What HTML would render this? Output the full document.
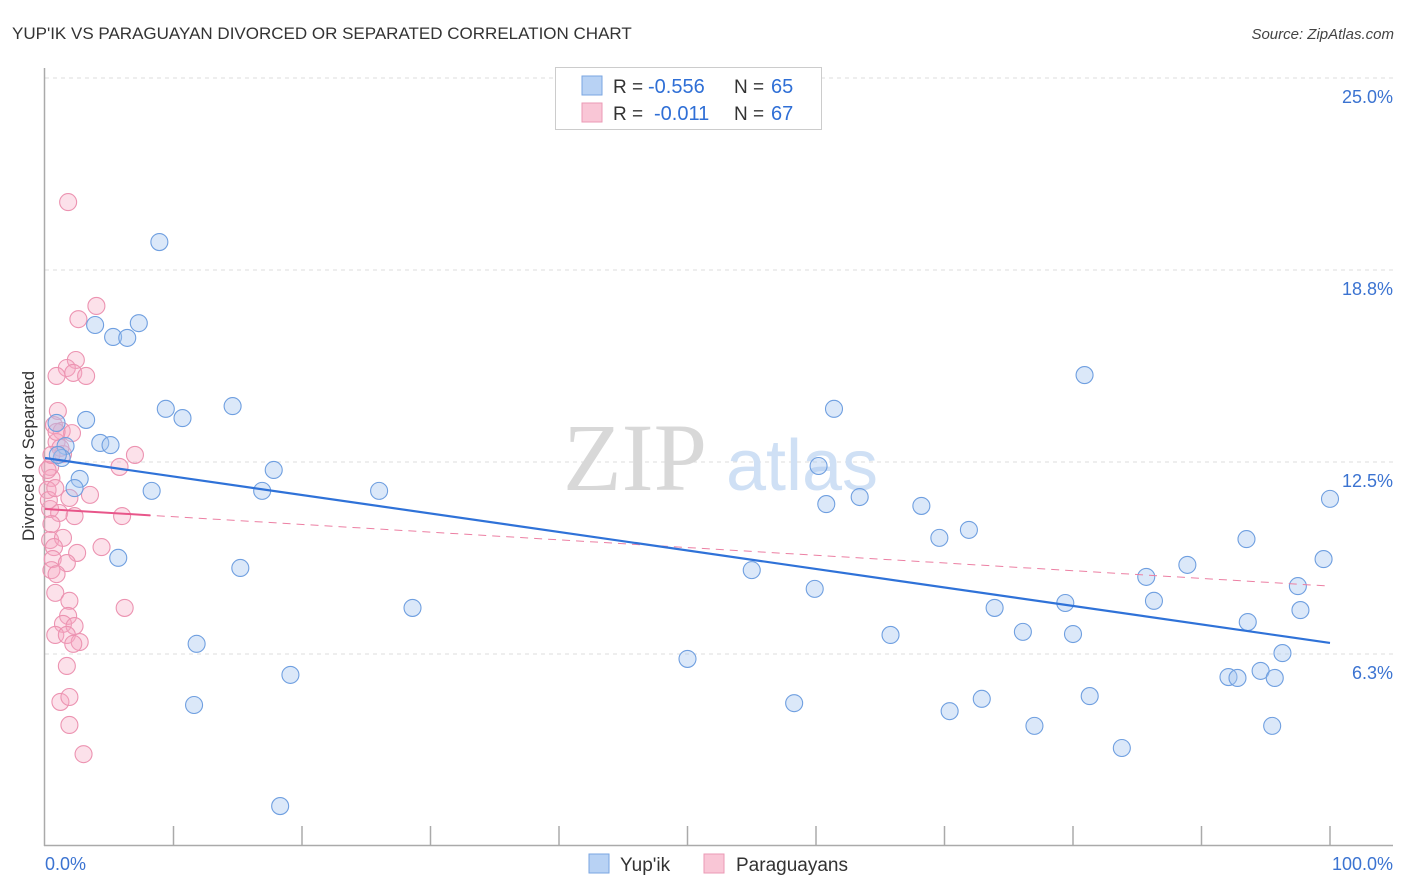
<!DOCTYPE html>
<html><head><meta charset="utf-8"><style>
body{margin:0;background:#fff;font-family:"Liberation Sans",sans-serif}
svg{display:block}
</style></head><body>
<svg width="1406" height="892" xmlns="http://www.w3.org/2000/svg">
<text x="12" y="39" font-size="17" fill="#333">YUP'IK VS PARAGUAYAN DIVORCED OR SEPARATED CORRELATION CHART</text>
<text x="1394" y="39" font-size="15" fill="#444" font-style="italic" text-anchor="end">Source: ZipAtlas.com</text>
<g id="grid"></g>
<text x="635" y="490" font-size="96" fill="#d8d8d8" font-family="Liberation Serif" text-anchor="middle">ZIP</text>
<text x="802" y="490" font-size="72" fill="#cfe0f5" text-anchor="middle">atlas</text>
<g id="axes"></g>
<g id="pts"></g>
<g id="trend"></g>
<text transform="translate(34,456) rotate(-90)" font-size="17" fill="#333" text-anchor="middle">Divorced or Separated</text>
<g>
<rect x="555.5" y="67.5" width="266" height="62" fill="#fff" stroke="#ccc"/>
<rect x="582" y="76" width="20" height="19" fill="#b8d2f4" stroke="#7aa6e2"/>
<text x="613" y="93" font-size="19" fill="#333">R =</text>
<text x="648" y="93" font-size="20" fill="#2f6fd6">-0.556</text>
<text x="734" y="93" font-size="19" fill="#333">N =</text>
<text x="771" y="93" font-size="20" fill="#2f6fd6">65</text>
<rect x="582" y="103" width="20" height="19" fill="#f9c6d6" stroke="#eb9ab5"/>
<text x="613" y="120" font-size="19" fill="#333">R =</text>
<text x="654" y="120" font-size="20" fill="#2f6fd6">-0.011</text>
<text x="734" y="120" font-size="19" fill="#333">N =</text>
<text x="771" y="120" font-size="20" fill="#2f6fd6">67</text>
</g>
<g>
<rect x="589" y="854" width="20" height="19" fill="#b8d2f4" stroke="#7aa6e2"/>
<text x="620" y="871" font-size="19" fill="#333">Yup'ik</text>
<rect x="704" y="854" width="20" height="19" fill="#f9c6d6" stroke="#eb9ab5"/>
<text x="736" y="871" font-size="19" fill="#333">Paraguayans</text>
</g>
<text x="45" y="870" font-size="18" fill="#3b73d1">0.0%</text>
<text x="1393" y="870" font-size="18" fill="#3b73d1" text-anchor="end">100.0%</text>
</svg>
<script>
const yTicks=[6.25,12.5,18.75,25];
const yTickLabels=["6.3%","12.5%","18.8%","25.0%"];
const blueX=[8.9,3.9,7.3,5.3,6.4,9.4,10.7,3.2,14.6,4.3,5.1,0.9,1.6,1.3,2.7,2.3,8.3,16.9,17.8,26.0,5.7,15.2,28.6,11.8,19.1,11.6,18.3,50.0,58.3,55.0,59.9,60.2,61.4,60.8,63.4,65.8,68.2,69.6,71.9,73.9,76.1,70.4,72.9,77.0,79.4,80.0,81.3,80.9,83.8,85.7,86.3,88.9,92.1,92.8,93.5,93.6,94.6,95.7,95.5,96.3,97.5,97.7,99.5,100,1.0];
const blueY=[19.66,16.96,17.02,16.57,16.54,14.23,13.93,13.87,14.32,13.12,13.05,13.77,13.02,12.63,11.95,11.65,11.56,11.56,12.24,11.56,9.38,9.05,7.75,6.58,5.57,4.59,1.30,6.09,4.65,8.98,8.37,12.37,14.23,11.13,11.36,6.87,11.07,10.03,10.29,7.75,6.97,4.39,4.79,3.91,7.91,6.90,4.88,15.33,3.19,8.76,7.98,9.15,5.50,5.47,9.99,7.29,5.70,5.47,3.91,6.28,8.46,7.68,9.34,11.30,12.73];
const pinkX=[1.8,4.0,2.6,2.4,1.7,0.9,2.2,3.2,1.0,0.7,1.3,2.1,0.9,1.4,7.0,5.8,0.4,0.5,3.5,1.9,0.4,1.1,6.0,2.3,0.5,0.4,1.4,4.4,0.7,2.5,0.6,1.7,0.5,0.9,0.8,1.9,6.2,1.8,1.4,2.3,0.8,1.7,2.7,2.2,1.7,1.2,1.9,1.9,3.0,0.2,0.2,0.3,0.9,1.2,0.8,0.5];
const pinkY=[20.96,17.58,17.15,15.82,15.56,15.30,15.40,15.30,14.16,13.70,13.51,13.44,13.15,12.76,12.73,12.34,12.34,11.98,11.43,11.33,10.97,10.84,10.74,10.74,10.48,9.96,10.03,9.73,9.73,9.54,9.34,9.21,8.98,8.85,8.24,7.98,7.75,7.49,7.23,7.16,6.87,6.87,6.64,6.58,5.86,4.69,4.85,3.94,2.99,12.24,11.59,11.26,13.48,12.96,11.65,12.73];
const blueTrend=[12.63,6.61];
const pinkTrend=[10.97,8.46];
const pinkSolidEnd=8.2;

const NS="http://www.w3.org/2000/svg";
const X0=45,X1=1330,Y0=846,YS=30.72;
function sx(v){return X0+v*(X1-X0)/100;}
function sy(v){return Y0-v*YS;}
function mk(t,a,p){const e=document.createElementNS(NS,t);for(const k in a)e.setAttribute(k,a[k]);p.appendChild(e);return e;}
const grid=document.getElementById('grid');
yTicks.forEach((t,i)=>{
  const l=mk('line',{x1:45,x2:1393,y1:sy(t),y2:sy(t),stroke:'#dcdcdc','stroke-dasharray':'4,4'},grid);
  
  
  const tx=mk('text',{x:1393,y:sy(t)+25,'font-size':18,fill:'#3b73d1','text-anchor':'end'},grid);
  tx.textContent=yTickLabels[i];
  
  
});
const axes=document.getElementById('axes');
const ya=mk('line',{x1:44.5,x2:44.5,y1:68,y2:846,stroke:'#aaa','stroke-width':1.5},axes);


const xa=mk('line',{x1:44,x2:1393,y1:845.5,y2:845.5,stroke:'#aaa','stroke-width':1.5},axes);


for(let i=1;i<=10;i++){
  const t=mk('line',{x1:sx(i*10),x2:sx(i*10),y1:826,y2:846,stroke:'#aaa','stroke-width':1.5},axes);
  
  
}
const pts=document.getElementById('pts');
pinkX.forEach((x,i)=>{
  const c=mk('circle',{cx:sx(x),cy:sy(pinkY[i]),r:8.5,fill:'rgba(246,170,196,0.35)',stroke:'#ec93b1','stroke-width':1.1},pts);
  
  
});
blueX.forEach((x,i)=>{
  const c=mk('circle',{cx:sx(x),cy:sy(blueY[i]),r:8.5,fill:'rgba(165,198,240,0.4)',stroke:'#6f9fe0','stroke-width':1.1},pts);
  
  
});
const tr=document.getElementById('trend');
const pd=mk('line',{x1:sx(0),y1:sy(pinkTrend[0]),x2:sx(100),y2:sy(pinkTrend[1]),stroke:'#ec7fa3','stroke-width':1,'stroke-dasharray':'8,6'},tr);


const pe=pinkTrend[0]+(pinkTrend[1]-pinkTrend[0])*pinkSolidEnd/100;
const ps=mk('line',{x1:sx(0),y1:sy(pinkTrend[0]),x2:sx(pinkSolidEnd),y2:sy(pe),stroke:'#e8568a','stroke-width':2},tr);


const bl=mk('line',{x1:sx(0),y1:sy(blueTrend[0]),x2:sx(100),y2:sy(blueTrend[1]),stroke:'#2f72d8','stroke-width':2.2},tr);


</script>
</body></html>
